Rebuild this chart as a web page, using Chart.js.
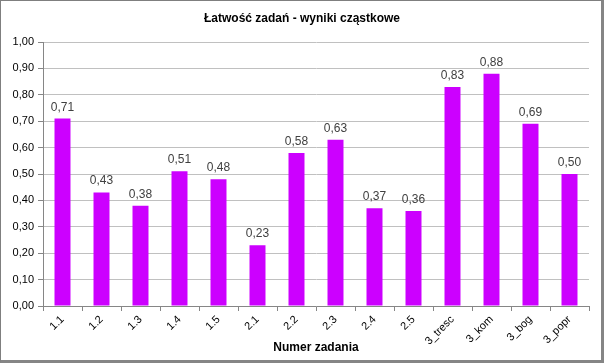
<!DOCTYPE html>
<html>
<head>
<meta charset="utf-8">
<script src="https://cdn.jsdelivr.net/npm/chart.js@4/dist/chart.umd.min.js"></script>
<style>
html,body{margin:0;padding:0;background:#fff;}
#wrap{position:relative;width:604px;height:363px;}
#frame{position:absolute;left:0;top:0;width:604px;height:363px;box-sizing:border-box;border-left:1px solid #7f7f7f;border-top:1px solid #7f7f7f;border-right:3px solid #858585;border-bottom:3px solid #858585;pointer-events:none;}
canvas{display:block;}
</style>
</head>
<body>
<div id="wrap"><canvas id="c" width="604" height="363"></canvas><div id="frame"></div></div>
<script>
const categories = ['1.1','1.2','1.3','1.4','1.5','2.1','2.2','2.3','2.4','2.5','3_tresc','3_kom','3_bog','3_popr'];
const values = [0.71,0.43,0.38,0.51,0.48,0.23,0.58,0.63,0.37,0.36,0.83,0.88,0.69,0.50];
const chartTitle = 'Łatwość zadań - wyniki cząstkowe';
const xTitle = 'Numer zadania';
const yMin = 0, yMax = 1, yStep = 0.1;

const fmt = v => Number(v).toFixed(2).replace('.', ',');

const labelPlugin = {
  id: 'valueLabels',
  afterDatasetsDraw(chart) {
    const ctx = chart.ctx;
    const meta = chart.getDatasetMeta(0);
    ctx.save();
    ctx.font = '12px "Liberation Sans", Arial, sans-serif';
    ctx.fillStyle = '#404040';
    ctx.textAlign = 'center';
    ctx.textBaseline = 'alphabetic';
    meta.data.forEach((bar, i) => {
      ctx.fillText(fmt(values[i]), bar.x, bar.y - 8);
    });
    ctx.restore();
  }
};

const titlePlugin = {
  id: 'topTitle',
  afterDraw(chart) {
    const ctx = chart.ctx;
    ctx.save();
    ctx.font = 'bold 12px "Liberation Sans", Arial, sans-serif';
    ctx.fillStyle = '#000';
    ctx.textAlign = 'center';
    ctx.textBaseline = 'middle';
    ctx.fillText(chartTitle, chart.width / 2, 19);
    ctx.restore();
  }
};

new Chart(document.getElementById('c'), {
  type: 'bar',
  data: {
    labels: categories,
    datasets: [{
      data: values,
      backgroundColor: '#CC00FF',
      borderWidth: 0,
      barPercentage: 0.41,
      categoryPercentage: 1.0
    }]
  },
  options: {
    responsive: false,
    animation: false,
    devicePixelRatio: 1,
    layout: { padding: { left: 0, right: 15, top: 42, bottom: 0 } },
    plugins: { legend: { display: false }, title: { display: false }, tooltip: { enabled: false } },
    scales: {
      x: {
        afterFit(scale) { scale.height = 57; },
        grid: { drawOnChartArea: false, drawTicks: true, tickLength: 5, color: '#868686', offset: true },
        border: { color: '#868686' },
        ticks: {
          color: '#000',
          font: { family: '"Liberation Sans", Arial, sans-serif', size: 11 },
          minRotation: 45, maxRotation: 45, autoSkip: false, padding: 2
        },
        title: {
          display: true, text: xTitle, color: '#000',
          font: { family: '"Liberation Sans", Arial, sans-serif', size: 12, weight: 'bold' },
          padding: { top: 0, bottom: 8 }
        }
      },
      y: {
        min: yMin, max: yMax,
        afterFit(scale) { scale.width = 43; },
        grid: { color: '#C0C0C0', tickColor: '#868686', tickLength: 5 },
        border: { color: '#868686' },
        ticks: {
          stepSize: yStep, color: '#000', padding: 4,
          font: { family: '"Liberation Sans", Arial, sans-serif', size: 11 },
          callback: v => fmt(v)
        }
      }
    }
  },
  plugins: [labelPlugin, titlePlugin]
});
</script>
</body>
</html>
